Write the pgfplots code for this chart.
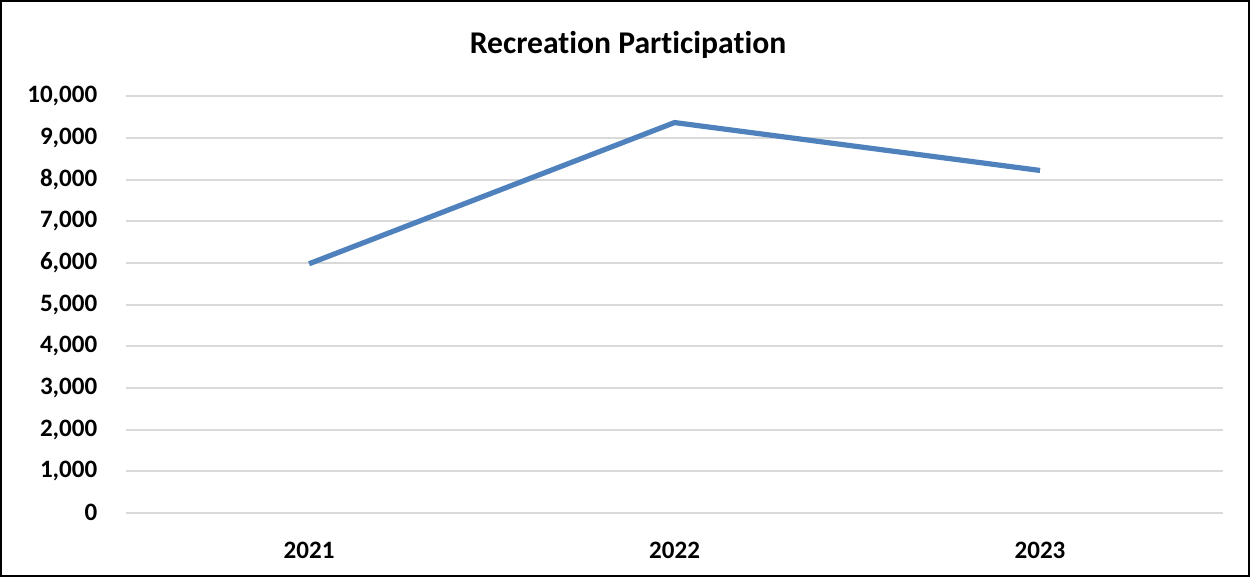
\documentclass[border=0pt]{standalone}
\usepackage{fontspec}
\setmainfont{Carlito}[Ligatures=CommonOff]
\usepackage{pgfplots}
\pgfplotsset{compat=1.18}
\definecolor{lineblue}{HTML}{4F81BD}
\definecolor{gridgray}{HTML}{D9D9D9}
\begin{document}
\begin{tikzpicture}
  % outer frame of the chart
  \draw[line width=1.2pt, black] (-62.5pt,-31.5pt) rectangle (560.5pt,255.5pt);
  \node[font=\fontsize{15.8}{17}\selectfont\bfseries] at (250.5pt,233.5pt) {Recreation Participation};
  \begin{axis}[
    scale only axis,
    width=547.5pt, height=208pt,
    xmin=-0.5, xmax=2.5,
    ymin=0, ymax=10000,
    axis line style={draw=none},
    xtick={0,1,2},
    xticklabels={2021,2022,2023},
    ytick={0,1000,...,10000},
    scaled y ticks=false,
    ymajorgrids,
    grid style={gridgray, line width=1pt},
    major tick length=0pt,
    tick label style={font=\fontsize{12.5}{14}\selectfont\bfseries},
    xticklabel style={yshift=-11pt},
    yticklabel style={xshift=-11pt},
    /pgf/number format/1000 sep={,},
    /pgf/number format/assume math mode=true,
    clip=false,
  ]
    \addplot[lineblue, line width=2.6pt] coordinates {
      (0,5980) (1,9370) (2,8220)
    };
  \end{axis}
\end{tikzpicture}
\end{document}
